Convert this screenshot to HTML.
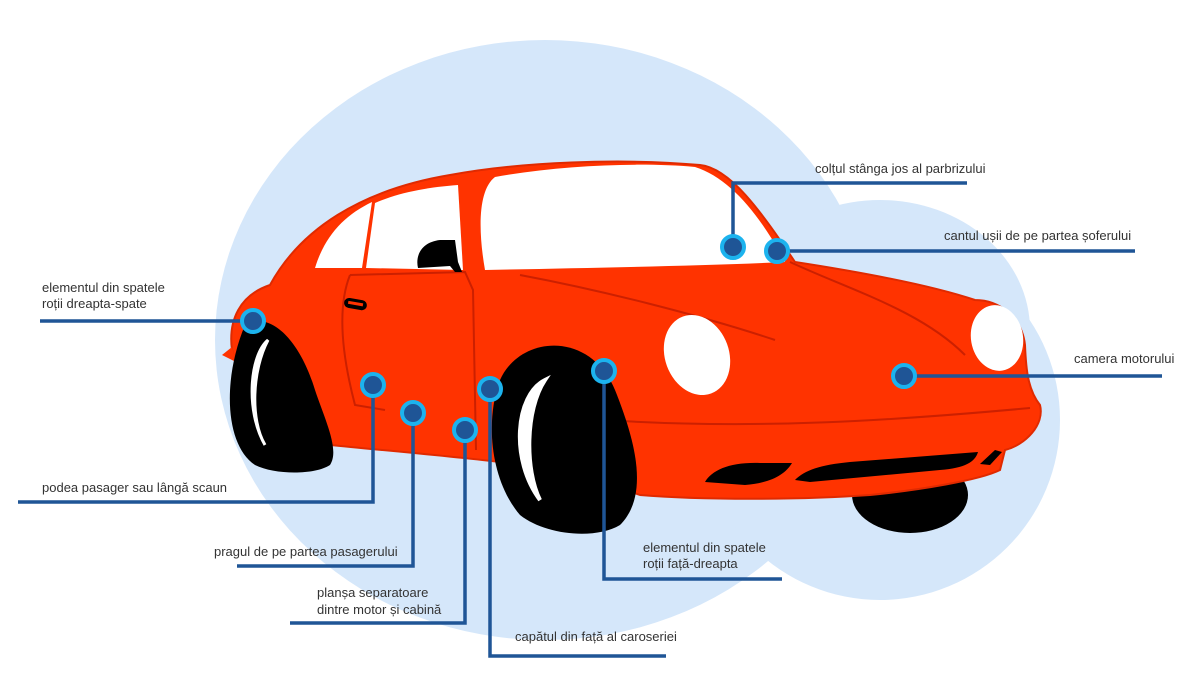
<!DOCTYPE html>
<html><head><meta charset="utf-8"><style>
html,body{margin:0;padding:0;background:#fff;}
svg{display:block}
text{font-family:"Liberation Sans",sans-serif;font-size:13px;fill:#333;}
</style></head><body>
<svg width="1200" height="675" viewBox="0 0 1200 675" xmlns="http://www.w3.org/2000/svg">
<g fill="#d5e7fa">
<ellipse cx="545" cy="340" rx="330" ry="300"/>
<circle cx="880" cy="420" r="180"/>
<ellipse cx="880" cy="330" rx="150" ry="130"/>
</g>
<!-- far front wheel -->
<ellipse cx="910" cy="495" rx="58" ry="38" fill="#000"/>
<!-- body -->
<path d="M232,350 C228,320 240,295 270,285 C300,230 360,190 450,175 C520,162 620,158 700,165 C730,168 760,210 795,262 C860,272 930,285 975,300 C1000,300 1022,318 1025,345 C1026,370 1028,390 1040,405 C1045,425 1025,445 1005,450 L1000,470 C980,480 920,490 870,495 C800,500 700,500 640,495 C600,480 560,470 500,462 C440,455 380,450 330,445 C290,430 240,390 232,350 Z" fill="#ff3300" stroke="#e02a00" stroke-width="2"/>
<path d="M222,355 l10,-8 l4,15 z" fill="#ff3300"/>
<!-- panel lines -->
<g fill="none" stroke="#cc2000" stroke-width="2">
<path d="M350,275 C340,300 338,340 355,405 L385,410"/>
<path d="M350,275 L465,272 L473,290 L476,450"/>
<path d="M520,275 C600,290 700,315 775,340"/>
<path d="M790,262 C850,290 920,310 965,355"/>
<path d="M605,420 C760,430 900,420 1030,408"/>
</g>
<!-- windows -->
<path d="M315,268 C325,235 345,215 372,202 L362,268 Z" fill="#fff"/>
<path d="M366,268 L375,203 C400,192 430,187 458,185 L463,270 Z" fill="#fff"/>
<path d="M485,270 C478,230 478,190 495,177 C560,165 640,162 695,167 C730,178 760,215 785,262 C700,266 580,268 485,270 Z" fill="#fff"/>
<!-- mirror -->
<path d="M418,268 C415,255 422,242 440,240 L455,240 L458,262 L462,272 L455,272 L450,266 Z" fill="#000"/>
<!-- handle -->
<rect x="344" y="299" width="23" height="10" rx="5" fill="#000" transform="rotate(10 355 304)"/>
<rect x="348" y="302" width="15" height="3" fill="#ff3300" transform="rotate(10 355 304)"/>
<!-- headlights -->
<ellipse cx="697" cy="355" rx="32" ry="41" fill="#fff" transform="rotate(-20 697 355)"/>
<ellipse cx="997" cy="338" rx="26" ry="33" fill="#fff" transform="rotate(-10 997 338)"/>
<!-- grilles -->
<path d="M705,482 C712,470 730,462 760,463 L792,463 C785,475 770,483 745,485 Z" fill="#000"/>
<path d="M795,480 C805,470 820,465 850,462 L978,452 C975,462 965,468 940,470 L810,482 Z" fill="#000"/>
<path d="M980,464 L995,450 L1002,452 L990,465 Z" fill="#000"/>
<!-- rear wheel -->
<path d="M245,325 C270,310 300,340 315,390 C325,420 340,450 330,465 C315,475 275,475 255,465 C225,445 222,380 245,325 Z" fill="#000"/>
<path d="M268,340 C250,355 245,410 265,445 C250,420 252,370 268,340 Z" fill="#fff" stroke="#fff" stroke-width="3"/>
<!-- front wheel -->
<path d="M500,380 C520,335 590,330 615,390 C635,440 650,495 620,525 C595,540 545,535 520,515 C490,480 485,420 500,380 Z" fill="#000"/>
<path d="M545,380 C515,395 510,460 540,500 C525,470 525,410 545,380 Z" fill="#fff" stroke="#fff" stroke-width="4"/>
<!-- connectors -->
<g fill="none" stroke="#1f5596" stroke-width="3.5">
<path d="M253,321 H40"/>
<path d="M373,385 V502 H18"/>
<path d="M413,413 V566 H237"/>
<path d="M465,430 V623 H290"/>
<path d="M490,389 V656 H666"/>
<path d="M604,371 V579 H782"/>
<path d="M733,247 V183 H967"/>
<path d="M777,251 H1135"/>
<path d="M904,376 H1162"/>
</g>
<g fill="#1f5596" stroke="#1cb3ee" stroke-width="4">
<circle cx="253" cy="321" r="11"/>
<circle cx="373" cy="385" r="11"/>
<circle cx="413" cy="413" r="11"/>
<circle cx="465" cy="430" r="11"/>
<circle cx="490" cy="389" r="11"/>
<circle cx="604" cy="371" r="11"/>
<circle cx="733" cy="247" r="11"/>
<circle cx="777" cy="251" r="11"/>
<circle cx="904" cy="376" r="11"/>
</g>
<text x="42" y="292">elementul din spatele</text>
<text x="42" y="308">roții dreapta-spate</text>
<text x="42" y="492">podea pasager sau lângă scaun</text>
<text x="214" y="556">pragul de pe partea pasagerului</text>
<text x="317" y="597">planșa separatoare</text>
<text x="317" y="614">dintre motor și cabină</text>
<text x="515" y="641">capătul din față al caroseriei</text>
<text x="643" y="552">elementul din spatele</text>
<text x="643" y="568">roții față-dreapta</text>
<text x="815" y="173">colțul stânga jos al parbrizului</text>
<text x="944" y="240">cantul ușii de pe partea șoferului</text>
<text x="1074" y="363">camera motorului</text>
</svg>
</body></html>
